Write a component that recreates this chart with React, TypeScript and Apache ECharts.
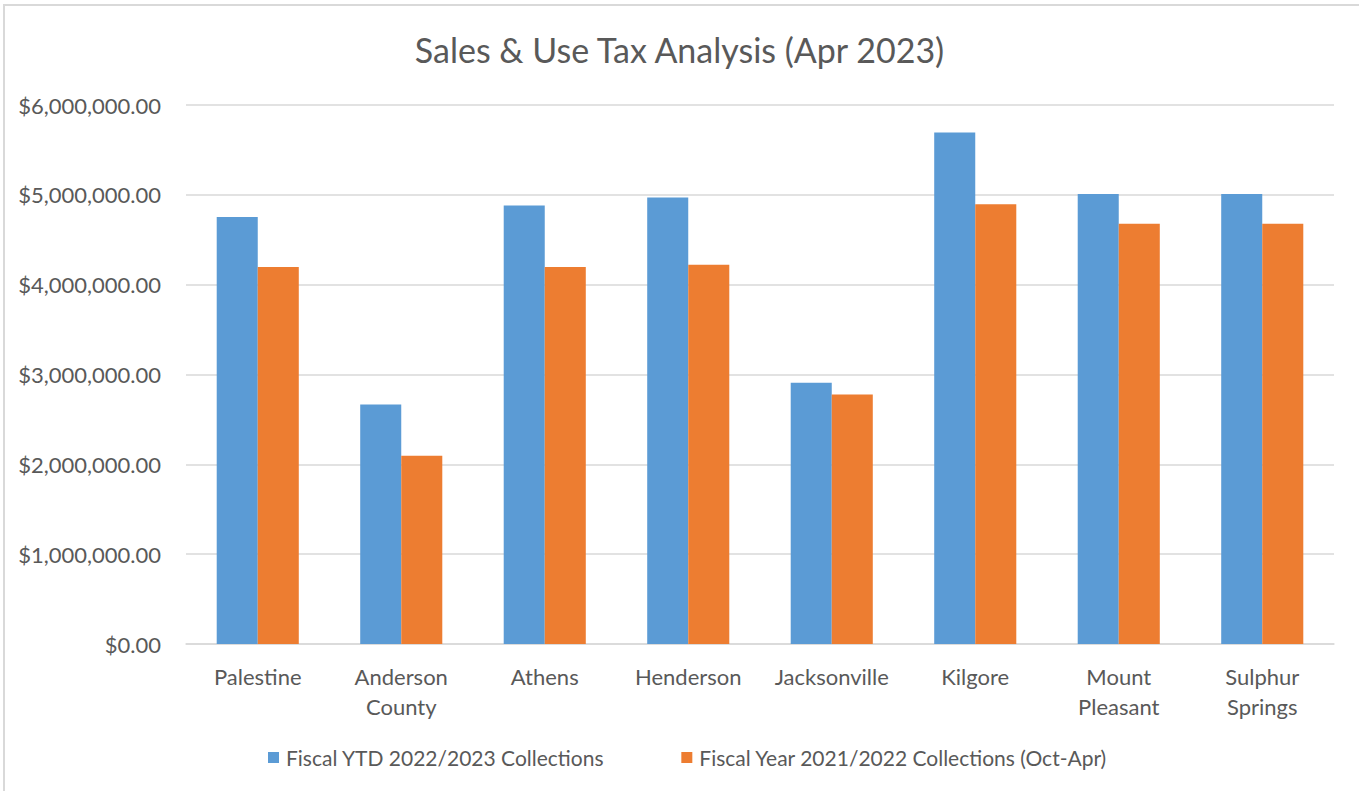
import React, { useEffect, useRef } from "react";
import * as echarts from "echarts";

const categories = [
  "Palestine",
  "Anderson\nCounty",
  "Athens",
  "Henderson",
  "Jacksonville",
  "Kilgore",
  "Mount\nPleasant",
  "Sulphur\nSprings",
];
const fiscalYTD2023 = [4753000, 2667000, 4880000, 4969000, 2909000, 5693000, 5009000, 5009000];
const fiscalYear2022 = [4196000, 2096000, 4196000, 4223000, 2778000, 4894000, 4679000, 4679000];
const seriesNames = [
  "Fiscal YTD 2022/2023 Collections",
  "Fiscal Year 2021/2022 Collections (Oct-Apr)",
];
const titleText = "Sales & Use Tax Analysis (Apr 2023)";

const FONT = "Lato, 'Noto Sans', sans-serif";
const TEXT = "#595959";
const GRID = "#D9D9D9";

export default function App() {
  const ref = useRef<HTMLDivElement>(null);
  useEffect(() => {
    document.body.style.margin = "0";
    const chart = echarts.init(ref.current!, null, { renderer: "svg" });
    chart.setOption({
      animation: false,
      backgroundColor: "#ffffff",
      textStyle: { fontFamily: FONT },
      title: {
        text: titleText,
        left: "center",
        top: 27,
        textStyle: { fontFamily: FONT, fontSize: 34, fontWeight: "normal", color: TEXT },
      },
      graphic: [
        {
          type: "rect",
          shape: { x: 4, y: 5, width: 1400, height: 900 },
          style: { fill: "none", stroke: GRID, lineWidth: 2 },
          silent: true,
        },
      ],
      legend: {
        left: 263,
        top: 742,
        itemWidth: 11,
        itemHeight: 11,
        itemGap: 77,
        icon: "rect",
        textStyle: { fontFamily: FONT, fontSize: 21, color: TEXT, padding: [0, 0, 0, 2] },
        data: seriesNames,
      },
      grid: { left: 186, right: 25, top: 105, bottom: 147, containLabel: false },
      xAxis: {
        type: "category",
        data: categories,
        axisTick: { show: false },
        axisLine: { lineStyle: { color: GRID, width: 1.5 } },
        axisLabel: {
          fontFamily: FONT,
          fontSize: 22,
          color: TEXT,
          margin: 17,
          lineHeight: 30,
          interval: 0,
        },
      },
      yAxis: {
        type: "value",
        min: 0,
        max: 6000000,
        interval: 1000000,
        axisLine: { show: false },
        axisTick: { show: false },
        splitLine: { lineStyle: { color: GRID, width: 1.5 } },
        axisLabel: {
          fontFamily: FONT,
          fontSize: 22,
          color: TEXT,
          margin: 25,
          formatter: (v: number) =>
            "$" + v.toLocaleString("en-US", { minimumFractionDigits: 2, maximumFractionDigits: 2 }),
        },
      },
      series: [
        {
          name: seriesNames[0],
          type: "bar",
          data: fiscalYTD2023,
          barWidth: "28.6%",
          barGap: "0%",
          itemStyle: { color: "#5B9BD5" },
        },
        {
          name: seriesNames[1],
          type: "bar",
          data: fiscalYear2022,
          barWidth: "28.6%",
          barGap: "0%",
          itemStyle: { color: "#ED7D31" },
        },
      ],
    });
    return () => chart.dispose();
  }, []);
  return <div ref={ref} style={{ width: 1359, height: 791 }} />;
}
